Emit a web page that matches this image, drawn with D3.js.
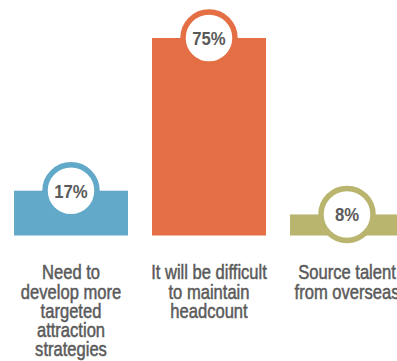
<!DOCTYPE html>
<html>
<head>
<meta charset="utf-8">
<script src="https://cdn.jsdelivr.net/npm/d3@7"></script>
<style>
  html, body { margin: 0; padding: 0; background: #fff; overflow: hidden; }
  svg { display: block; }
  text { font-family: "Liberation Sans", Arial, sans-serif; fill: #5a5a5a; }
</style>
</head>
<body>
<svg id="chart" width="397" height="361"></svg>
<script>
// Survey responses: share of respondents per concern
const categories = ["attraction", "headcount", "overseas"];
const values = [17, 75, 8];
const valueLabels = ["17%", "75%", "8%"];
const categoryLines = [
  ["Need to", "develop more", "targeted", "attraction", "strategies"],
  ["It will be difficult", "to maintain", "headcount"],
  ["Source talent", "from overseas"]
];
const colors = ["#62a9c9", "#e56f45", "#b9b56f"];

const condense = 0.85; // horizontal squeeze for a condensed look

const svg = d3.select("#chart");

const x = d3.scaleBand()
  .domain(categories)
  .range([14, 404])
  .paddingInner(0.174)
  .paddingOuter(0);

const y = d3.scaleLinear()
  .domain([0, 75])
  .range([235.5, 38]);

const cx = d => x(d) + x.bandwidth() / 2;

const g = svg.selectAll("g.bar")
  .data(categories)
  .join("g")
  .attr("class", "bar");

// bars
g.append("rect")
  .attr("x", d => x(d))
  .attr("width", x.bandwidth())
  .attr("y", (d, i) => y(values[i]))
  .attr("height", (d, i) => y(0) - y(values[i]))
  .attr("fill", (d, i) => colors[i]);

// value badges sitting on top of each bar
g.append("circle")
  .attr("cx", cx)
  .attr("cy", (d, i) => y(values[i]))
  .attr("r", 26)
  .attr("fill", "#fff")
  .attr("stroke", (d, i) => colors[i])
  .attr("stroke-width", 5.5);

g.append("text")
  .attr("transform", (d, i) => `translate(${cx(d)},${y(values[i])}) scale(0.88,1)`)
  .attr("dy", "0.36em")
  .attr("text-anchor", "middle")
  .style("font-size", "19px")
  .style("font-weight", "bold")
  .text((d, i) => valueLabels[i]);

// category labels below the baseline
g.append("text")
  .attr("transform", d => `translate(${cx(d)},0) scale(${condense},1)`)
  .attr("text-anchor", "middle")
  .style("font-size", "19.5px")
  .style("stroke", "#5a5a5a")
  .style("stroke-width", "0.5px")
  .selectAll("tspan")
  .data((d, i) => categoryLines[i])
  .join("tspan")
  .attr("x", 0)
  .attr("y", (d, j) => 279.5 + j * 19.2)
  .text(d => d);
</script>
</body>
</html>
